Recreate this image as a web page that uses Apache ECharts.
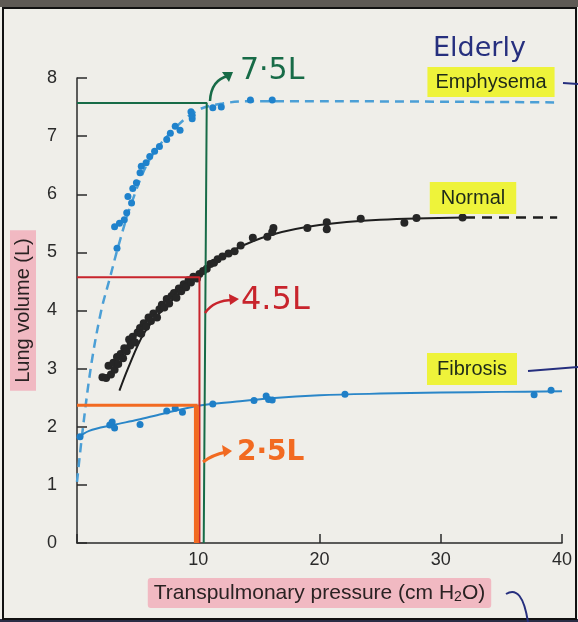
<!DOCTYPE html>
<html><head><meta charset="utf-8">
<script src="https://cdn.jsdelivr.net/npm/echarts@6/dist/echarts.min.js"></script>
<style>html,body{margin:0;padding:0;background:#efeee9}#c{width:578px;height:622px}</style>
</head><body><div id="c"></div>
<script>
// ---- data ----
const xTicks = [0, 10, 20, 30, 40];
const yTicks = [0, 1, 2, 3, 4, 5, 6, 7, 8];

const emphysemaDots = [[3.3,5.07],[3.1,5.44],[3.5,5.5],[3.9,5.56],[4.1,5.68],[4.2,5.96],[4.5,5.85],[4.6,6.1],[4.9,6.2],[5.2,6.37],[5.3,6.48],[5.7,6.54],[6.0,6.65],[6.4,6.74],[6.8,6.82],[7.4,6.94],[7.7,7.05],[8.1,7.17],[8.5,7.1],[9.4,7.42],[9.5,7.3],[9.5,7.36],[11.2,7.49],[11.9,7.5],[14.3,7.62],[16.1,7.62]];
const emphysemaFit = [[0,1.05],[0.5,2.0],[1.2,3.1],[2,4.0],[2.7,4.55],[3.4,5.1],[4.5,5.85],[6,6.6],[8,7.12],[10,7.45],[12,7.56],[14,7.6],[20,7.6],[39.6,7.58]];

const normalDots = [[2.1,2.85],[2.4,2.84],[2.6,3.05],[2.8,2.9],[3.0,3.1],[3.1,2.98],[3.3,3.2],[3.4,3.08],[3.6,3.25],[3.8,3.18],[3.9,3.35],[4.1,3.3],[4.3,3.5],[4.4,3.4],[4.6,3.55],[4.8,3.45],[5.0,3.62],[5.2,3.7],[5.3,3.6],[5.5,3.78],[5.7,3.72],[5.9,3.88],[6.1,3.82],[6.3,3.95],[6.6,3.88],[6.8,4.02],[7.0,4.1],[7.2,4.05],[7.4,4.2],[7.6,4.12],[7.8,4.25],[8.0,4.3],[8.2,4.22],[8.4,4.38],[8.6,4.33],[8.8,4.45],[9.0,4.4],[9.2,4.52],[9.4,4.48],[9.6,4.58],[9.9,4.55],[10.1,4.63],[10.4,4.68],[10.7,4.72],[11.0,4.8],[11.3,4.82],[11.6,4.88],[12.0,4.93],[12.5,4.98],[13.0,5.02],[13.5,5.12],[14.5,5.25],[15.7,5.27],[16.1,5.35],[16.2,5.42],[19.0,5.42],[20.6,5.52],[20.6,5.4],[23.4,5.58],[27.0,5.51],[28.0,5.59],[31.8,5.6]];
const normalFit = [[3.5,2.62],[4.2,3.0],[5.5,3.6],[7,4.0],[9,4.4],[11,4.78],[13,5.05],[16,5.3],[20,5.47],[25,5.56],[32,5.6]];
const normalTail = [[32,5.6],[39.6,5.6]];

const fibrosisDots = [[0.25,1.83],[2.7,2.03],[2.9,2.08],[3.1,1.98],[5.2,2.04],[7.4,2.27],[8.1,2.32],[8.7,2.25],[11.2,2.39],[14.6,2.45],[15.6,2.53],[15.8,2.47],[16.1,2.46],[22.1,2.56],[37.7,2.55],[39.1,2.63]];
const fibrosisFit = [[0,1.8],[1,1.93],[3,2.03],[5,2.12],[7,2.22],[10,2.36],[13,2.43],[16,2.49],[20,2.54],[25,2.57],[30,2.59],[35,2.6],[40,2.61]];

const greenRef = [[0,7.57],[10.7,7.57],[10.45,0]];
const redRef = [[0,4.57],[10.1,4.57],[10.1,0]];
const orangeRefH = [[0,2.37],[9.95,2.37]];
const orangeRefV = [[9.85,2.37],[9.85,0]];

// ---- chart ----
const chart = echarts.init(document.getElementById('c'), null, {renderer:'canvas'});
const BLUE = '#2a86c8', BLUE_L = '#4b9fd6', INK = '#262626';
const GREEN = '#176b47', RED = '#c8242c', ORANGE = '#f26a21', NAVY = '#262f7e';
const YEL = '#eef33a', PINK = '#f1b9c2';

function lineS(data, color, width, type, z, smooth){
  return {type:'line', data, smooth: smooth||false, showSymbol:false, symbol:'none', silent:true, z:z||2,
    lineStyle:{color, width, type: type||'solid'}};
}
function dotS(data, color, size, z){
  return {type:'scatter', data, symbolSize:size, silent:true, z:z||3, itemStyle:{color, opacity:1}};
}

chart.setOption({
  animation:false,
  backgroundColor:'#efeee9',
  grid:{left:77, right:16, top:78, bottom:79, containLabel:false, outerBoundsMode:'none'},
  xAxis:{type:'value', min:0, max:40, interval:10,
    axisLine:{show:true, lineStyle:{color:'#2a2a2a', width:1.5}},
    axisTick:{show:true, inside:true, length:9, lineStyle:{color:'#2a2a2a', width:1.5}},
    axisLabel:{show:true, margin:8, fontSize:18, color:'#2a2a2a', fontFamily:'Liberation Sans',
      formatter:v => v===0 ? '' : String(v)},
    splitLine:{show:false},
    name:'{a|Transpulmonary pressure (cm H}{s|2}{a|O)}', nameLocation:'middle', nameGap:35,
    nameTextStyle:{backgroundColor:PINK, padding:[4,6,4,6], borderRadius:3,
      rich:{a:{fontSize:21, color:'#2a2222', fontFamily:'Liberation Sans'},
            s:{fontSize:14, color:'#2a2222', fontFamily:'Liberation Sans', padding:[8,0,0,0]}}}
  },
  yAxis:{type:'value', min:0, max:8, interval:1,
    axisLine:{show:true, lineStyle:{color:'#2a2a2a', width:1.5}},
    axisTick:{show:true, inside:true, length:10, lineStyle:{color:'#2a2a2a', width:1.5}},
    axisLabel:{show:true, margin:20, fontSize:18, color:'#2a2a2a', fontFamily:'Liberation Sans'},
    splitLine:{show:false},
    name:'Lung volume (L)', nameLocation:'middle', nameGap:41,
    nameTextStyle:{fontSize:20, color:'#2a2222', fontFamily:'Liberation Sans', backgroundColor:PINK, padding:[3,8,3,8]}
  },
  series:[
    lineS(emphysemaFit, BLUE_L, 2.5, [9,6], 2, 0.35),
    lineS(fibrosisFit, BLUE, 2, 'solid', 2, 0.35),
    lineS(normalFit, '#1e1e1e', 2, 'solid', 2, 0.35),
    lineS(normalTail, '#1e1e1e', 2.5, [10,7], 2),
    dotS(emphysemaDots, '#1f82cc', 7, 3),
    dotS(fibrosisDots, '#1f7fc7', 7, 3),
    dotS(normalDots, INK, 8, 3),
    lineS(greenRef, GREEN, 2, 'solid', 4),
    lineS(redRef, RED, 2, 'solid', 4),
    lineS(orangeRefH, ORANGE, 3, 'solid', 4),
    lineS(orangeRefV, ORANGE, 5, 'solid', 4)
  ],
  graphic:[
    {type:'rect', shape:{x:0,y:0,width:578,height:7}, style:{fill:'#5e5a55'}, z:0, silent:true},
    {type:'rect', shape:{x:0,y:619,width:578,height:3}, style:{fill:'#2a2d45'}, z:0, silent:true},
    {type:'rect', shape:{x:3,y:8,width:573,height:611}, style:{fill:null, stroke:'#111', lineWidth:2}, z:10, silent:true},
    // handwritten annotations
    {type:'text', z:20, silent:true, style:{x:433, y:49, text:'Elderly', fill:NAVY, font:'27px "DejaVu Sans"', align:'left', verticalAlign:'middle', textAlign:'left', textVerticalAlign:'middle'}},
    {type:'text', z:20, silent:true, style:{x:491, y:82, text:'Emphysema', fill:'#1e2a1a', font:'20px "Liberation Sans"', align:'center', verticalAlign:'middle', textAlign:'center', textVerticalAlign:'middle', backgroundColor:YEL, padding:[5,8,5,8]}},
    {type:'text', z:20, silent:true, style:{x:473, y:198, text:'Normal', fill:'#1e2a1a', font:'20px "Liberation Sans"', align:'center', verticalAlign:'middle', textAlign:'center', textVerticalAlign:'middle', backgroundColor:YEL, padding:[6,11,6,11]}},
    {type:'text', z:20, silent:true, style:{x:472, y:369, text:'Fibrosis', fill:'#1e2a1a', font:'20px "Liberation Sans"', align:'center', verticalAlign:'middle', textAlign:'center', textVerticalAlign:'middle', backgroundColor:YEL, padding:[6,10,6,10]}},
    {type:'polyline', z:20, silent:true, shape:{points:[[563,83],[578,84]]}, style:{stroke:NAVY, lineWidth:2, fill:null}},
    {type:'polyline', z:20, silent:true, shape:{points:[[528,371],[578,367]]}, style:{stroke:NAVY, lineWidth:2, fill:null}},
    {type:'bezierCurve', z:20, silent:true, shape:{x1:506,y1:594,cpx1:522,cpy1:584,x2:528,y2:622}, style:{stroke:NAVY, lineWidth:2, fill:null}},
    // 7.5L
    {type:'bezierCurve', z:20, silent:true, shape:{x1:210,y1:101,cpx1:211,cpy1:80,x2:228,y2:76}, style:{stroke:GREEN, lineWidth:2.5, fill:null}},
    {type:'polygon', z:20, silent:true, shape:{points:[[233,72],[222,72],[229,82]]}, style:{fill:GREEN}},
    {type:'text', z:20, silent:true, style:{x:240, y:71, text:'7·5L', fill:GREEN, font:'30px "DejaVu Sans"', align:'left', verticalAlign:'middle', textAlign:'left', textVerticalAlign:'middle'}},
    // 4.5L
    {type:'bezierCurve', z:20, silent:true, shape:{x1:205,y1:313,cpx1:214,cpy1:300,x2:233,y2:300}, style:{stroke:RED, lineWidth:2.5, fill:null}},
    {type:'polygon', z:20, silent:true, shape:{points:[[239,299],[229,294],[230,305]]}, style:{fill:RED}},
    {type:'text', z:20, silent:true, style:{x:241, y:301, text:'4.5L', fill:RED, font:'32px "DejaVu Sans"', align:'left', verticalAlign:'middle', textAlign:'left', textVerticalAlign:'middle'}},
    // 2.5L
    {type:'bezierCurve', z:20, silent:true, shape:{x1:203,y1:462,cpx1:212,cpy1:455,x2:226,y2:452}, style:{stroke:ORANGE, lineWidth:3, fill:null}},
    {type:'polygon', z:20, silent:true, shape:{points:[[232,451],[222,445],[224,457]]}, style:{fill:ORANGE}},
    {type:'text', z:20, silent:true, style:{x:237, y:453, text:'2·5L', fill:ORANGE, font:'bold 28px "DejaVu Sans"', align:'left', verticalAlign:'middle', textAlign:'left', textVerticalAlign:'middle'}}
  ]
});
</script></body></html>
